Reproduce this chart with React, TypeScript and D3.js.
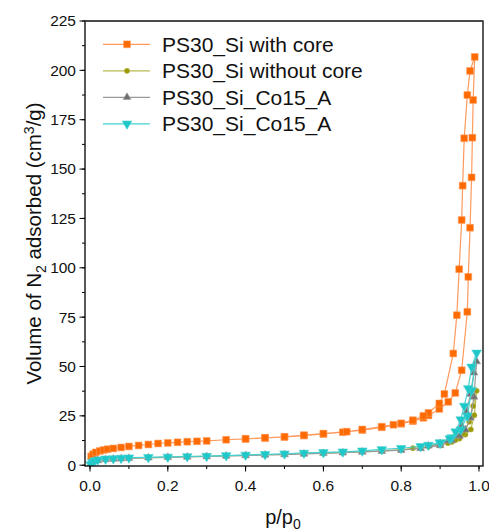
import React from "react";
import * as d3 from "d3";

// ---- data ----
const coreAdsP = [0.003, 0.008, 0.015, 0.025, 0.035, 0.045, 0.06, 0.08, 0.1, 0.125, 0.15, 0.175, 0.2, 0.225, 0.25, 0.275, 0.3, 0.35, 0.4, 0.45, 0.5, 0.55, 0.6, 0.65, 0.7, 0.75, 0.8, 0.83, 0.857, 0.87, 0.898, 0.921, 0.939, 0.9555, 0.97, 0.9725, 0.977, 0.981, 0.983, 0.985, 0.989];
const coreAdsV = [4.5, 5.6, 6.5, 7.2, 7.7, 8.1, 8.5, 9.0, 9.5, 10.0, 10.5, 11.0, 11.3, 11.6, 11.9, 12.1, 12.3, 12.9, 13.3, 13.8, 14.3, 15.0, 15.8, 16.7, 17.8, 19.2, 21.0, 22.3, 24.0, 25.2, 28.5, 32.1, 36.6, 48.1, 77.7, 95.4, 120.3, 145.8, 165.9, 185, 206.8];
const coreDesP = [0.977, 0.970, 0.962, 0.958, 0.9555, 0.949, 0.943, 0.934, 0.911, 0.898, 0.87, 0.857, 0.83, 0.8, 0.78, 0.75, 0.7, 0.66, 0.6, 0.55, 0.5, 0.45, 0.4];
const coreDesV = [199.7, 187.5, 165.6, 141.6, 124.2, 99.3, 76, 56.6, 36.1, 31.3, 26.5, 25.0, 22.8, 21.2, 20.5, 19.5, 18.1, 17.0, 16.0, 15.2, 14.4, 13.9, 13.4];

const noCoreAdsP = [0.003, 0.01, 0.02, 0.04, 0.06, 0.08, 0.1, 0.15, 0.2, 0.25, 0.3, 0.35, 0.4, 0.45, 0.5, 0.55, 0.6, 0.65, 0.7, 0.75, 0.8, 0.85, 0.9, 0.93, 0.95, 0.965, 0.979, 0.988, 0.994];
const noCoreAdsV = [1.2, 2.0, 2.5, 3.0, 3.2, 3.4, 3.5, 3.8, 4.0, 4.3, 4.5, 4.8, 5.0, 5.3, 5.5, 5.8, 6.1, 6.4, 6.8, 7.3, 7.9, 8.8, 10.3, 11.8, 13.5, 15.5, 18.1, 25.3, 37.7];
const noCoreDesP = [0.985, 0.975, 0.96, 0.94, 0.92, 0.9, 0.87, 0.83];
const noCoreDesV = [30, 22, 16, 12.8, 11.2, 10.3, 9.4, 8.6];

const coAdsP = [0.003, 0.01, 0.02, 0.04, 0.06, 0.08, 0.1, 0.15, 0.2, 0.25, 0.3, 0.35, 0.4, 0.45, 0.5, 0.55, 0.6, 0.65, 0.7, 0.75, 0.8, 0.85, 0.9, 0.93, 0.95, 0.965, 0.978, 0.987, 0.994];
const coAdsV = [1.0, 1.8, 2.4, 2.9, 3.1, 3.3, 3.5, 3.8, 4.0, 4.2, 4.4, 4.7, 4.9, 5.2, 5.4, 5.7, 6.0, 6.3, 6.7, 7.1, 7.6, 8.5, 10.0, 12.5, 14.8, 18.0, 24.0, 34.6, 52.5];
const coDesP = [0.987, 0.978, 0.968, 0.955, 0.94, 0.92, 0.9, 0.87];
const coDesV = [46.8, 36.0, 27.0, 20.0, 15.0, 12.5, 11.0, 9.8];

const co2AdsP = [0.002, 0.006, 0.012, 0.02, 0.04, 0.06, 0.08, 0.1, 0.15, 0.2, 0.25, 0.3, 0.35, 0.4, 0.45, 0.5, 0.55, 0.6, 0.65, 0.7, 0.75, 0.8, 0.85, 0.9, 0.93, 0.953, 0.97, 0.981, 0.994];
const co2AdsV = [0.3, 1.5, 2.3, 2.8, 3.2, 3.4, 3.6, 3.8, 4.0, 4.2, 4.4, 4.6, 4.9, 5.2, 5.5, 5.8, 6.2, 6.5, 6.8, 7.3, 8.0, 8.6, 9.6, 11.2, 14.0, 18.0, 25.0, 38.0, 56.9];
const co2DesP = [0.981, 0.9725, 0.962, 0.953, 0.94, 0.925, 0.9, 0.87];
const co2DesV = [49.8, 38.9, 30.0, 23.1, 17.0, 13.5, 11.5, 10.2];

const seriesNames = ["PS30_Si with core", "PS30_Si without core", "PS30_Si_Co15_A", "PS30_Si_Co15_A"];
const xTicks = [0, 0.2, 0.4, 0.6, 0.8, 1.0];
const yTicks = [0, 25, 50, 75, 100, 125, 150, 175, 200, 225];

const W = 489, H = 531;
const left = 85, right = 483, top = 21, bottom = 466;

export default function App() {
  const x = d3.scaleLinear().domain([-0.0129, 1.0103]).range([left, right]);
  const y = d3.scaleLinear().domain([-0.4, 225]).range([bottom, top]);

  const mk = (a: number[], b: number[]) => a.map((p, i) => [p, b[i]] as [number, number]);
  const series = [
    { pts: [...mk(coreAdsP, coreAdsV), ...mk(coreDesP, coreDesV)], mark: "#ff6a00", line: "#ff9a5c", sym: d3.symbolSquare, size: 46 },
    { pts: [...mk(noCoreAdsP, noCoreAdsV), ...mk(noCoreDesP, noCoreDesV)], mark: "#999900", line: "#b9b955", sym: d3.symbolCircle, size: 22 },
    { pts: [...mk(coAdsP, coAdsV), ...mk(coDesP, coDesV)], mark: "#6f6f6f", line: "#9a9a9a", sym: d3.symbolTriangle, size: 26 },
    { pts: [...mk(co2AdsP, co2AdsV), ...mk(co2DesP, co2DesV)], mark: "#1fc8c8", line: "#45d2d2", sym: d3.symbolTriangle, size: 40, down: true },
  ];
  const line = d3.line<[number, number]>().x((d) => x(d[0])).y((d) => y(d[1]));
  const font = "Arial, 'Liberation Sans', sans-serif";
  const xMinor = d3.range(0, 1.001, 0.1);
  const yMinor = d3.range(0, 225.1, 12.5);

  return (
    <svg width={W} height={H} style={{ position: "absolute", left: 0, top: 0 }} fontFamily={font}>
      <rect width={W} height={H} fill="#fff" />
      <defs>
        <clipPath id="clip"><rect x={left} y={top} width={right - left} height={bottom - top} /></clipPath>
      </defs>
      <g clipPath="url(#clip)">
        {series.map((s, i) => (
          <g key={i}>
            <path d={line(s.pts) || ""} fill="none" stroke={s.line} strokeWidth={1.2} />
            {s.pts.map((p, j) => (
              <path key={j} d={d3.symbol().type(s.sym).size(s.size)() || ""}
                transform={`translate(${x(p[0])},${y(p[1])})${s.down ? " rotate(180)" : ""}`}
                fill={s.mark} stroke={s.line} strokeWidth={0.6} />
            ))}
          </g>
        ))}
      </g>
      {/* frame */}
      <rect x={left} y={top} width={right - left} height={bottom - top} fill="none" stroke="#000" strokeWidth={1.3} />
      <line x1={left} x2={right} y1={top} y2={top} stroke="#444" strokeWidth={1.5} />
      {/* y ticks */}
      {yMinor.map((v, i) => (
        <line key={"ym" + i} x1={left - 3} x2={left} y1={y(v)} y2={y(v)} stroke="#000" strokeWidth={1} />
      ))}
      {yTicks.map((v) => (
        <g key={"y" + v}>
          <line x1={left - 5.5} x2={left} y1={y(v)} y2={y(v)} stroke="#000" strokeWidth={1} />
          <text x={left - 9} y={y(v)} dy="0.35em" textAnchor="end" fontSize={15.5} fill="#111">{v}</text>
        </g>
      ))}
      {/* x ticks */}
      {xMinor.map((v, i) => (
        <line key={"xm" + i} x1={x(v)} x2={x(v)} y1={bottom} y2={bottom + 3} stroke="#000" strokeWidth={1} />
      ))}
      {xTicks.map((v) => (
        <g key={"x" + v}>
          <line x1={x(v)} x2={x(v)} y1={bottom} y2={bottom + 5.5} stroke="#000" strokeWidth={1} />
          <text x={x(v)} y={bottom + 25} textAnchor="middle" fontSize={15.5} fill="#111">{v.toFixed(1)}</text>
        </g>
      ))}
      {/* axis titles */}
      <text x={283} y={524} textAnchor="middle" fontSize={20} fill="#111">
        p/p<tspan dy="5" fontSize={14}>0</tspan>
      </text>
      <text transform={`translate(41,${(top + bottom) / 2}) rotate(-90)`} textAnchor="middle" fontSize={20.5} fill="#111">
        Volume of N<tspan dy="5" fontSize={14}>2</tspan><tspan dy="-5"> adsorbed (cm</tspan><tspan dy="-7" fontSize={14}>3</tspan><tspan dy="7">/g)</tspan>
      </text>
      {/* legend */}
      {series.map((s, i) => {
        const ly = 44.3 + i * 26.5;
        return (
          <g key={"lg" + i}>
            <line x1={103} x2={150} y1={ly} y2={ly} stroke={s.line} strokeWidth={1.3} />
            <path d={d3.symbol().type(s.sym).size(s.size)() || ""}
              transform={`translate(127,${ly})${s.down ? " rotate(180)" : ""}`}
              fill={s.mark} stroke={s.line} strokeWidth={0.6} />
            <text x={162} y={ly} dy="0.35em" fontSize={21} fill="#111">{seriesNames[i]}</text>
          </g>
        );
      })}
    </svg>
  );
}
